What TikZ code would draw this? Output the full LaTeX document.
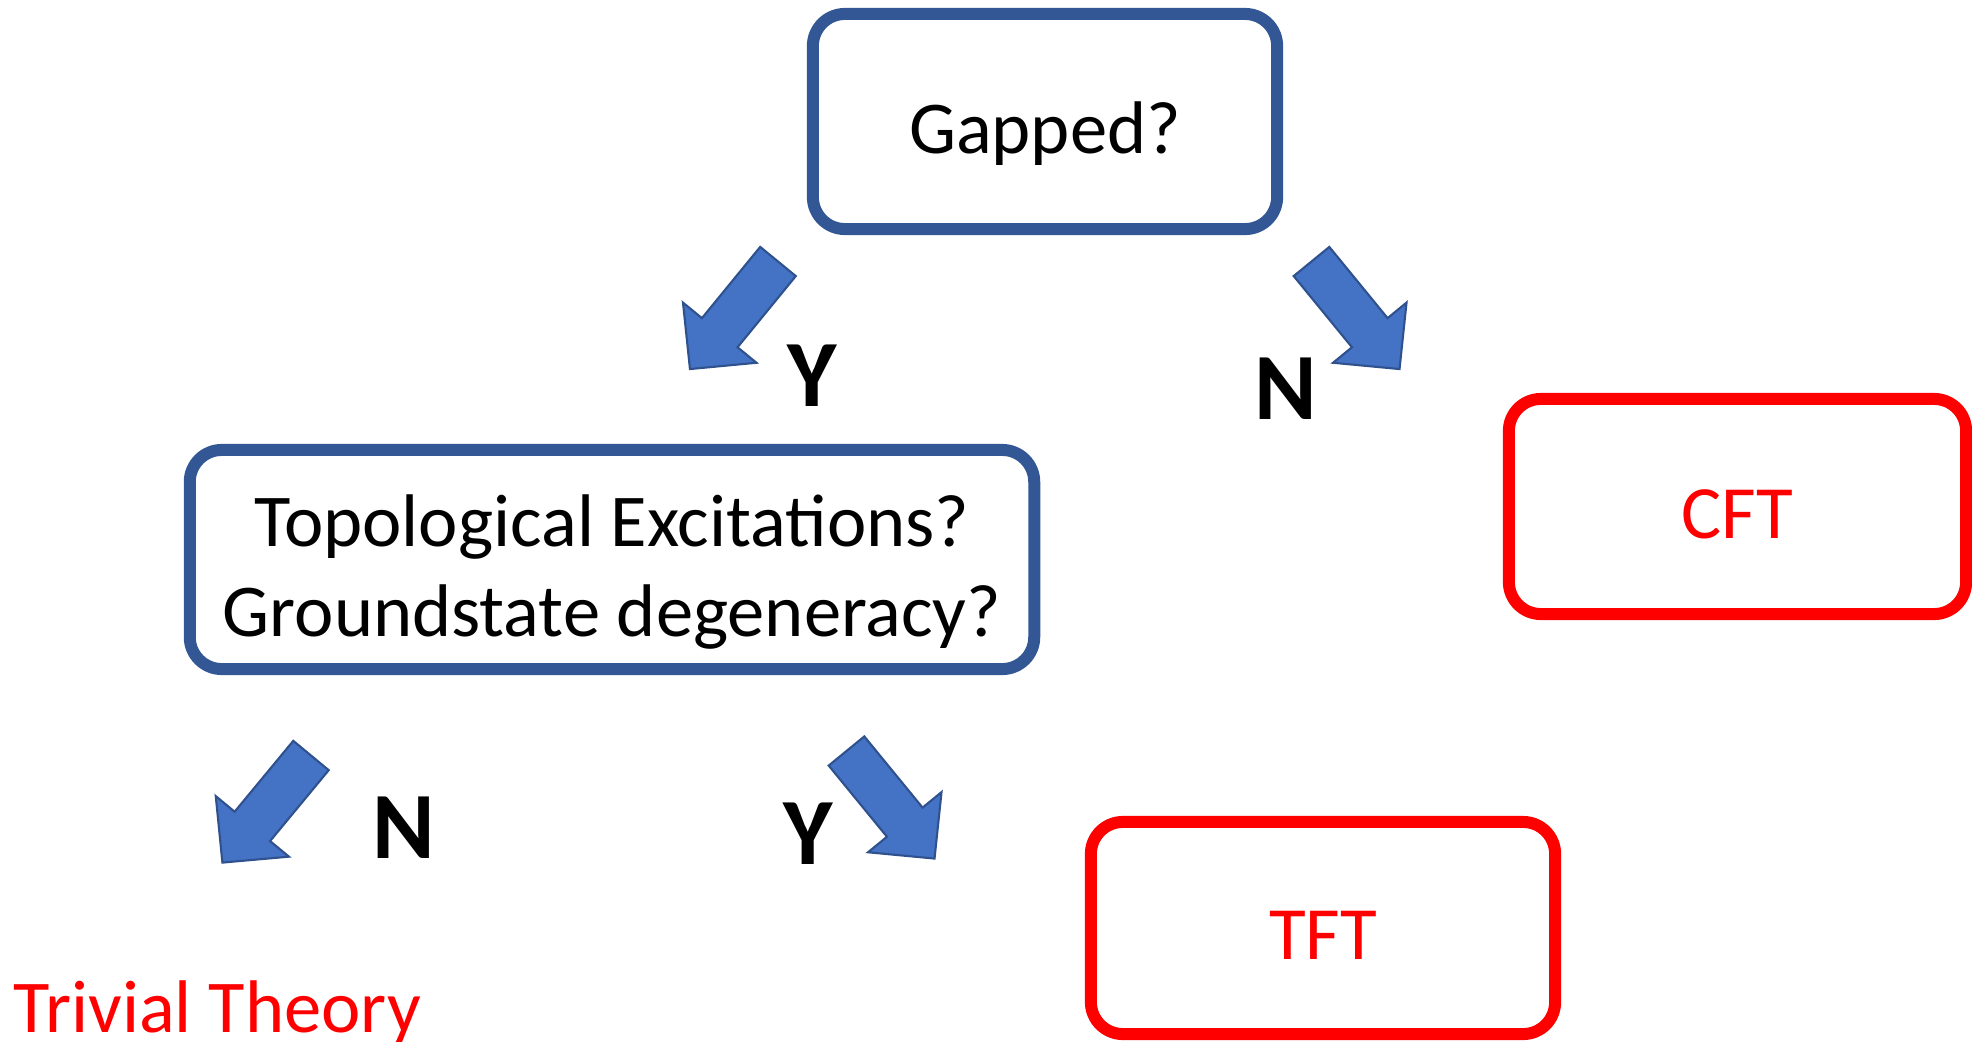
\documentclass[tikz,border=0pt]{standalone}
\usepackage{fontspec}
\setmainfont{Carlito}

\definecolor{boxblue}{RGB}{51,86,148}
\definecolor{arrowfill}{RGB}{68,114,196}
\definecolor{arrowline}{RGB}{47,82,143}

\begin{document}
\begin{tikzpicture}[x=0.01cm,y=0.01cm,
    q node/.style={draw=boxblue,line width=0.12cm,rounded corners=0.32cm,inner sep=0pt,font=\fontsize{21.2pt}{25.6pt}\selectfont},
    a node/.style={draw=red,line width=0.12cm,rounded corners=0.32cm,inner sep=0pt,text=red,font=\fontsize{21.4pt}{24pt}\selectfont,text height=0.63cm,text depth=0pt},
    yn node/.style={inner sep=0pt,font=\fontsize{27pt}{30pt}\selectfont\bfseries},
    block arrow/.pic={\draw[fill=arrowfill,draw=arrowline,line width=0.6pt,line join=miter] (0,23) -- (92,23) -- (92,47.5) -- (139,0) -- (92,-47.5) -- (92,-23) -- (0,-23) -- cycle;}]
                \useasboundingbox (0,0) rectangle (1972,1041);

                \node[q node,minimum width=4.64cm,minimum height=2.15cm,text height=0.63cm,text depth=0pt] (gap) at (1045,919.5) {Gapped?};
                \node[q node,minimum width=8.44cm,minimum height=2.19cm] (topo) at (612,481.5) {};
                \node[inner sep=0pt,align=center,font=\fontsize{21.2pt}{25.6pt}\selectfont] (topotext) at (612,469) {Topological Excitations?\\Groundstate degeneracy?};
                \node[a node,minimum width=4.57cm,minimum height=2.15cm] (cft) at (1737.5,534.5) {CFT};
                \node[a node,minimum width=4.64cm,minimum height=2.12cm] (tft) at (1323,113) {TFT};
                \node[inner sep=0pt,anchor=base west,text=red,font=\fontsize{21.2pt}{24pt}\selectfont] (triv) at (13,9) {Trivial Theory};

                \node[yn node] (y1) at (812,665) {Y};
                \node[yn node] (n1) at (1286,652.5) {N};
                \node[yn node] (n2) at (404,213.5) {N};
                \node[yn node] (y2) at (808.5,207) {Y};

                \pic (a1) [rotate=230.7] at (778,779.5) {block arrow};
                \pic (a2) [rotate=309.3] at (1311.5,779.5) {block arrow};
                \pic (a3) [rotate=230.4] at (311,285.5) {block arrow};
                \pic (a4) [rotate=309.3] at (846.5,290) {block arrow};
            \end{tikzpicture}
\end{document}
